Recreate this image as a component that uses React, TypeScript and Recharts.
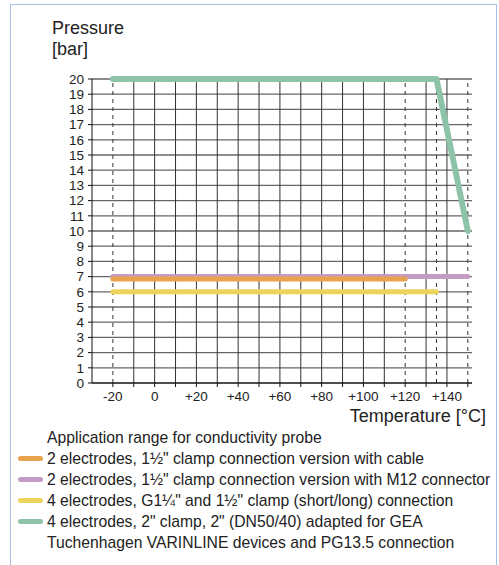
import { LineChart, Line, XAxis, YAxis, CartesianGrid, ReferenceLine } from "recharts"

// temperature (°C) / pressure (bar) points per probe version
const cableSeries = [
  { t: -20, p: 6.85 },
  { t: 120, p: 6.85 },
]
const m12Series = [
  { t: -20, p: 7 },
  { t: 150, p: 7 },
]
const g114Series = [
  { t: -20, p: 6 },
  { t: 135, p: 6 },
]
const geaSeries = [
  { t: -20, p: 20 },
  { t: 135, p: 20 },
  { t: 150, p: 10 },
]

const seriesNames = [
  '2 electrodes, 1½" clamp connection version with cable',
  '2 electrodes, 1½" clamp connection version with M12 connector',
  '4 electrodes, G1¼" and 1½" clamp (short/long) connection',
  '4 electrodes, 2" clamp, 2" (DN50/40) adapted for GEA\nTuchenhagen VARINLINE devices and PG13.5 connection',
]

const xTicks = [-20, -10, 0, 10, 20, 30, 40, 50, 60, 70, 80, 90, 100, 110, 120, 130, 140, 150]
const xTickLabels = ["-20", "", "0", "", "+20", "", "+40", "", "+60", "", "+80", "", "+100", "", "+120", "", "+140", ""]
const yTicks = [0, 1, 2, 3, 4, 5, 6, 7, 8, 9, 10, 11, 12, 13, 14, 15, 16, 17, 18, 19, 20]

const solidGridX = [-10, 0, 10, 20, 30, 40, 50, 60, 70, 80, 90, 100, 110, 130, 140]
const dashedGridX = [-20, 120, 135, 150]

const COLORS = ["#e9a34f", "#c39bc4", "#ecd55d", "#8dc3a8"]
const FONT = '"Liberation Sans", Arial, Helvetica, sans-serif'

export default function App() {
  return (
    <div
      style={{
        position: "absolute",
        left: 0,
        top: 0,
        width: 499,
        height: 565,
        overflow: "hidden",
        background: "#fff",
        fontFamily: FONT,
        color: "#222",
      }}
    >
      <div
        style={{
          position: "absolute",
          left: 10,
          top: 4,
          width: 485,
          height: 600,
          border: "1px solid #a7bfe3",
        }}
      />
      <div style={{ position: "absolute", left: 52, top: 17.5, fontSize: 18, lineHeight: "21px" }}>
        Pressure
        <br />
        [bar]
      </div>

      <div style={{ position: "absolute", left: 0, top: 0 }}>
        <LineChart width={499} height={420} margin={{ top: 79, right: 27, bottom: 7, left: 52 }}>
          <CartesianGrid vertical={false} stroke="#666" strokeWidth={1.3} />
          {solidGridX.map((x) => (
            <ReferenceLine key={"s" + x} x={x} stroke="#333" strokeWidth={1} />
          ))}
          {dashedGridX.map((x) => (
            <ReferenceLine key={"d" + x} x={x} stroke="#333" strokeWidth={1} strokeDasharray="4 4" />
          ))}
          <XAxis
            type="number"
            dataKey="t"
            domain={[-30, 152]}
            ticks={xTicks}
            interval={0}
            allowDataOverflow
            height={30}
            tickSize={4}
            tickMargin={4}
            axisLine={{ stroke: "#111" }}
            tickLine={{ stroke: "#111" }}
            tick={{ fontSize: 13.5, fill: "#222", fontFamily: FONT }}
            tickFormatter={(v: number) => xTickLabels[xTicks.indexOf(v)] ?? ""}
          />
          <YAxis
            type="number"
            dataKey="p"
            domain={[0, 20]}
            ticks={yTicks}
            interval={0}
            width={40}
            tickSize={4}
            tickMargin={4}
            axisLine={{ stroke: "#111" }}
            tickLine={{ stroke: "#111" }}
            tick={{ fontSize: 13.5, fill: "#222", fontFamily: FONT }}
          />
          <Line
            data={m12Series}
            dataKey="p"
            type="linear"
            stroke={COLORS[1]}
            strokeWidth={5}
            strokeLinecap="round"
            dot={false}
            isAnimationActive={false}
          />
          <Line
            data={cableSeries}
            dataKey="p"
            type="linear"
            stroke={COLORS[0]}
            strokeWidth={5}
            strokeLinecap="round"
            dot={false}
            isAnimationActive={false}
          />
          <Line
            data={g114Series}
            dataKey="p"
            type="linear"
            stroke={COLORS[2]}
            strokeWidth={5}
            strokeLinecap="round"
            dot={false}
            isAnimationActive={false}
          />
          <Line
            data={geaSeries}
            dataKey="p"
            type="linear"
            stroke={COLORS[3]}
            strokeWidth={6}
            strokeLinecap="round"
            strokeLinejoin="round"
            dot={false}
            isAnimationActive={false}
          />
        </LineChart>
      </div>

      <div style={{ position: "absolute", right: 13, top: 406, fontSize: 18, lineHeight: "21px" }}>
        Temperature [°C]
      </div>

      <div style={{ position: "absolute", left: 18, top: 427, fontSize: 15.7, lineHeight: "21px", whiteSpace: "pre" }}>
        <div style={{ paddingLeft: 29 }}>Application range for conductivity probe</div>
        {seriesNames.map((name, i) => (
          <div key={name} style={{ position: "relative", paddingLeft: 29 }}>
            <span
              style={{
                position: "absolute",
                left: 0,
                top: 8,
                width: 25,
                height: 5,
                borderRadius: 3,
                background: COLORS[i],
              }}
            />
            {name}
          </div>
        ))}
      </div>
    </div>
  )
}
